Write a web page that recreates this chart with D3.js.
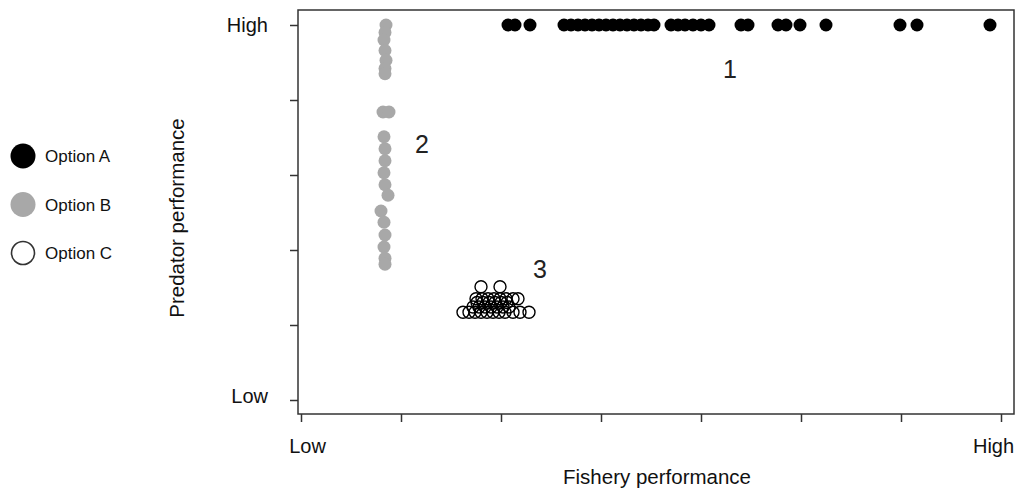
<!DOCTYPE html>
<html>
<head>
<meta charset="utf-8">
<script src="https://cdn.jsdelivr.net/npm/d3@7"></script>
<style>
  body { margin: 0; background: #fff; }
  text { font-family: "Liberation Sans", Arial, sans-serif; }
</style>
</head>
<body>
<div id="chart"></div>
<script>
// values, in axis units (x: 0..7 ticks, y: 0..5 ticks)
const optionA_x = [2.07, 2.14, 2.29, 2.63, 2.70, 2.77, 2.84, 2.91, 2.98, 3.05, 3.12, 3.19, 3.26, 3.33, 3.40,
  3.47, 3.53, 3.70, 3.77, 3.84, 3.92, 4.00, 4.08, 4.40, 4.47, 4.77, 4.85, 4.99, 5.25, 5.99, 6.16, 6.89];
const optionA_y = optionA_x.map(() => 5);

const optionB_x = [0.85, 0.84, 0.83, 0.84, 0.85, 0.84, 0.84, 0.82, 0.88, 0.83, 0.84, 0.84, 0.83, 0.84, 0.87, 0.80, 0.83, 0.84, 0.83, 0.84, 0.84];
const optionB_y = [5.00, 4.90, 4.80, 4.66, 4.53, 4.42, 4.35, 3.84, 3.84, 3.51, 3.35, 3.19, 3.03, 2.87, 2.73, 2.52, 2.37, 2.20, 2.04, 1.89, 1.81];

const optionC_x = [1.62, 1.68, 1.74, 1.80, 1.86, 1.92, 1.98, 2.04, 2.12, 2.19, 2.28,
  1.72, 1.78, 1.84, 1.90, 1.96, 2.02, 2.08,
  1.76, 1.82, 1.88, 1.94, 2.00, 2.06,
  1.75, 1.81, 1.87, 1.93, 1.99, 2.05, 2.12, 2.17,
  1.80, 1.99];
const optionC_y = [1.17, 1.17, 1.17, 1.17, 1.17, 1.17, 1.17, 1.17, 1.17, 1.17, 1.17,
  1.24, 1.24, 1.24, 1.24, 1.24, 1.24, 1.24,
  1.30, 1.30, 1.30, 1.30, 1.30, 1.30,
  1.35, 1.35, 1.35, 1.35, 1.35, 1.35, 1.35, 1.35,
  1.51, 1.51];

const xTicks = [0, 1, 2, 3, 4, 5, 6, 7];
const yTicks = [0, 1, 2, 3, 4, 5];
const xTickLabels = {0: "Low", 7: "High"};
const yTickLabels = {0: "Low", 5: "High"};

const groupLabels = ["1", "2", "3"];
const groupLabelX = [4.29, 1.21, 2.39];
const groupLabelY = [4.30, 3.30, 1.63];

const legendNames = ["Option A", "Option B", "Option C"];

const width = 1019, height = 490;

let svg = d3.select("#chart")
  .append("svg")
  .attr("width", width)
  .attr("height", height);

// scales
let x = d3.scaleLinear().domain([0, 7]).range([301, 1001]);
let y = d3.scaleLinear().domain([0, 5]).range([400, 25]);

// plot frame
svg.append("rect")
  .attr("x", 298).attr("y", 10)
  .attr("width", 716).attr("height", 404)
  .attr("fill", "none")
  .attr("stroke", "#333")
  .attr("stroke-width", 1.5);

// x axis
let xAxis = svg.append("g")
  .attr("transform", "translate(0,414)")
  .call(d3.axisBottom(x).tickValues(xTicks)
    .tickFormat(d => xTickLabels[d] || "")
    .tickSize(8).tickPadding(17));
xAxis.select(".domain").remove();
xAxis.selectAll("line").attr("stroke", "#333").attr("stroke-width", 1.5);
xAxis.selectAll("text").attr("font-size", 20).attr("fill", "#111")
  .attr("font-family", "Liberation Sans, Arial, sans-serif")
  .attr("dx", d => d == 0 ? 6 : -8);

// y axis
let yAxis = svg.append("g")
  .attr("transform", "translate(298,0)")
  .call(d3.axisLeft(y).tickValues(yTicks)
    .tickFormat(d => yTickLabels[d] || "")
    .tickSize(8).tickPadding(22));
yAxis.select(".domain").remove();
yAxis.selectAll("line").attr("stroke", "#333").attr("stroke-width", 1.5);
yAxis.selectAll("text").attr("font-size", 20).attr("fill", "#111")
  .attr("font-family", "Liberation Sans, Arial, sans-serif")
  .attr("dy", d => d == 0 ? "0.1em" : "0.32em");

// axis titles
svg.append("text")
  .attr("x", 657).attr("y", 484)
  .attr("text-anchor", "middle")
  .attr("font-size", 20.5).attr("fill", "#111")
  .text("Fishery performance");

svg.append("text")
  .attr("transform", "translate(184,218) rotate(-90)")
  .attr("text-anchor", "middle")
  .attr("font-size", 20.5).attr("fill", "#111")
  .text("Predator performance");

// points
svg.append("g").selectAll("circle")
  .data(optionB_x.map((d, i) => [d, optionB_y[i]]))
  .join("circle")
  .attr("cx", d => x(d[0])).attr("cy", d => y(d[1]))
  .attr("r", 6.5).attr("fill", "#a8a8a8");

svg.append("g").selectAll("circle")
  .data(optionA_x.map((d, i) => [d, optionA_y[i]]))
  .join("circle")
  .attr("cx", d => x(d[0])).attr("cy", d => y(d[1]))
  .attr("r", 6.5).attr("fill", "#000");

svg.append("g").selectAll("circle")
  .data(optionC_x.map((d, i) => [d, optionC_y[i]]))
  .join("circle")
  .attr("cx", d => x(d[0])).attr("cy", d => y(d[1]))
  .attr("r", 6).attr("fill", "none")
  .attr("stroke", "#000").attr("stroke-width", 1.4);

// group numbers
svg.append("g").selectAll("text")
  .data(groupLabels)
  .join("text")
  .attr("x", (d, i) => x(groupLabelX[i]))
  .attr("y", (d, i) => y(groupLabelY[i]))
  .attr("text-anchor", "middle")
  .attr("font-family", "Open Sans, sans-serif")
  .attr("font-size", 25).attr("fill", "#222")
  .text(d => d);

// legend
let legend = svg.append("g").selectAll("g")
  .data(legendNames)
  .join("g")
  .attr("transform", (d, i) => "translate(23," + (156 + i * 48.5) + ")");

legend.append("circle")
  .attr("r", (d, i) => i == 2 ? 11.5 : 12.5)
  .attr("fill", (d, i) => ["#000", "#a8a8a8", "none"][i])
  .attr("stroke", (d, i) => i == 2 ? "#333" : "none")
  .attr("stroke-width", 1.6);

legend.append("text")
  .attr("x", 22).attr("y", 6)
  .attr("font-size", 17).attr("fill", "#111")
  .text(d => d);
</script>
</body>
</html>
